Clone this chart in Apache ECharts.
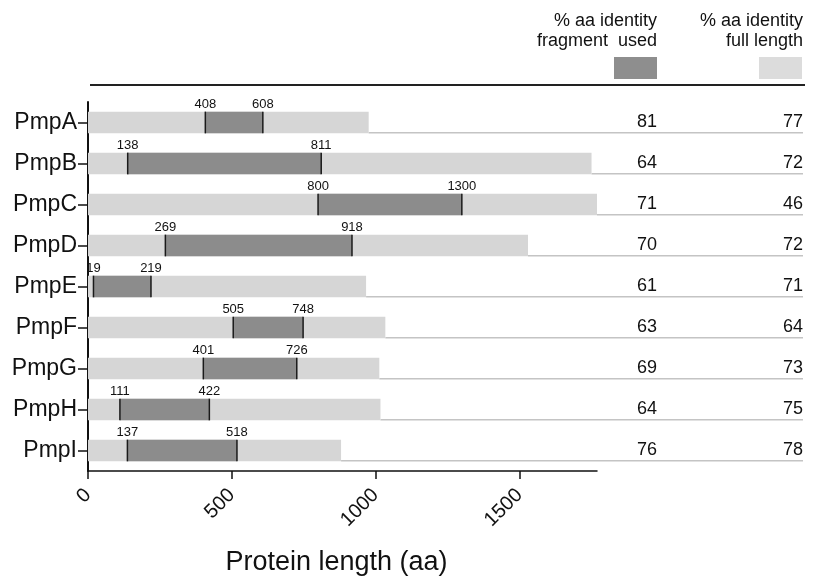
<!DOCTYPE html>
<html>
<head>
<meta charset="utf-8">
<script src="https://cdn.jsdelivr.net/npm/echarts@6/dist/echarts.min.js"></script>
<style>
html,body{margin:0;padding:0;background:#fff;}
#chart{width:813px;height:581px;}
</style>
</head>
<body>
<div id="chart"></div>
<script>
const categories = ['PmpA','PmpB','PmpC','PmpD','PmpE','PmpF','PmpG','PmpH','PmpI'];
const fullLength = [976, 1751, 1770, 1530, 967, 1034, 1013, 1017, 880];
const fragStart = [408, 138, 800, 269, 19, 505, 401, 111, 137];
const fragEnd = [608, 811, 1300, 918, 219, 748, 726, 422, 518];
const identityFragment = [81, 64, 71, 70, 61, 63, 69, 64, 76];
const identityFull = [77, 72, 46, 72, 71, 64, 73, 75, 78];
const xTicks = [0, 500, 1000, 1500];

const FONT = 'Liberation Sans, Arial, sans-serif';
const LIGHT = '#d6d6d6';
const DARK = '#8c8c8c';

const chart = echarts.init(document.getElementById('chart'), null, {renderer: 'canvas'});

const data = categories.map((c, i) => [fullLength[i], i, fragStart[i], fragEnd[i], identityFragment[i], identityFull[i]]);

function renderItem(params, api) {
  const full = api.value(0), idx = api.value(1);
  const s = api.value(2), e = api.value(3);
  const p0 = api.coord([0, idx]);
  const pf = api.coord([full, idx]);
  const ps = api.coord([s, idx]);
  const pe = api.coord([e, idx]);
  const band = api.size([0, 1])[1];
  const h = band * 0.53;
  const yc = p0[1];
  const top = yc - h / 2, bottom = yc + h / 2;
  const W = api.getWidth();
  const col1 = W - 166;
  const col2 = W - 10;
  return {
    type: 'group',
    children: [
      {type: 'line', shape: {x1: pf[0], y1: bottom - 0.5, x2: col2, y2: bottom - 0.5}, style: {stroke: '#c4c4c4', lineWidth: 1.5}},
      {type: 'rect', shape: {x: p0[0], y: top, width: pf[0] - p0[0], height: h}, style: {fill: LIGHT}},
      {type: 'rect', shape: {x: ps[0], y: top, width: pe[0] - ps[0], height: h}, style: {fill: DARK}},
      {type: 'line', shape: {x1: ps[0], y1: top, x2: ps[0], y2: bottom}, style: {stroke: '#1a1a1a', lineWidth: 1.5}},
      {type: 'line', shape: {x1: pe[0], y1: top, x2: pe[0], y2: bottom}, style: {stroke: '#1a1a1a', lineWidth: 1.5}},
      {type: 'text', style: {text: String(s), x: ps[0], y: top - 1, align: 'center', verticalAlign: 'bottom', fontSize: 13, fontFamily: FONT, fill: '#111'}},
      {type: 'text', style: {text: String(e), x: pe[0], y: top - 1, align: 'center', verticalAlign: 'bottom', fontSize: 13, fontFamily: FONT, fill: '#111'}},
      {type: 'text', style: {text: String(api.value(4)), x: col1, y: yc, align: 'center', verticalAlign: 'middle', fontSize: 18, fontFamily: FONT, fill: '#111'}},
      {type: 'text', style: {text: String(api.value(5)), x: col2, y: yc, align: 'right', verticalAlign: 'middle', fontSize: 18, fontFamily: FONT, fill: '#111'}}
    ]
  };
}

const option = {
  animation: false,
  backgroundColor: '#fff',
  grid: {left: 88, right: 216, top: 102, bottom: 109.5},
  xAxis: {
    type: 'value',
    min: 0,
    max: function (v) { return v.max; },
    axisLine: {show: true, lineStyle: {color: '#111', width: 1.5}},
    axisTick: {show: true, length: 8, customValues: xTicks, lineStyle: {color: '#111', width: 1.5}},
    axisLabel: {rotate: 45, fontSize: 20, fontFamily: FONT, color: '#111', margin: 21, customValues: xTicks, formatter: function (v) { return String(v); }},
    splitLine: {show: false},
    name: 'Protein length (aa)',
    nameLocation: 'middle',
    nameGap: 78,
    nameTextStyle: {fontSize: 27, fontFamily: FONT, color: '#111', padding: [0, 12, 0, 0]}
  },
  yAxis: {
    type: 'category',
    data: categories,
    inverse: true,
    axisLine: {show: true, lineStyle: {color: '#111', width: 2}},
    axisTick: {show: true, length: 10, alignWithLabel: true, lineStyle: {color: '#111', width: 1.5}},
    axisLabel: {fontSize: 23, fontFamily: FONT, color: '#111', margin: 11}
  },
  series: [{
    type: 'custom',
    renderItem: renderItem,
    encode: {x: 0, y: 1},
    data: data,
    clip: false
  }],
  graphic: [
    {type: 'text', x: 657, y: 11, style: {text: '% aa identity\nfragment  used', align: 'right', fontSize: 18, lineHeight: 20, fontFamily: FONT, fill: '#111'}},
    {type: 'text', x: 803, y: 11, style: {text: '% aa identity\nfull length', align: 'right', fontSize: 18, lineHeight: 20, fontFamily: FONT, fill: '#111'}},
    {type: 'rect', x: 614, y: 57, shape: {width: 43, height: 22}, style: {fill: '#8e8e8e'}},
    {type: 'rect', x: 759, y: 57, shape: {width: 43, height: 22}, style: {fill: '#dcdcdc'}},
    {type: 'line', x: 90, y: 85, shape: {x1: 0, y1: 0, x2: 715, y2: 0}, style: {stroke: '#222', lineWidth: 2}}
  ]
};
chart.setOption(option);
</script>
</body>
</html>
